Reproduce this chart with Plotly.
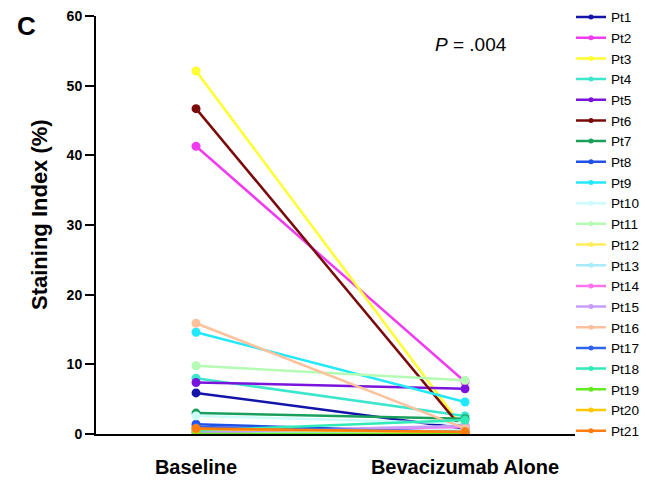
import plotly.graph_objects as go

categories = ["Baseline", "Bevacizumab Alone"]
patients = [f"Pt{i}" for i in range(1, 22)]
baseline = [5.9, 41.3, 52.1, 8.0, 7.4, 46.7, 3.0, 1.4, 14.6, 2.6, 9.8, 0.5, 0.2, 0.3, 0.2, 15.9, 1.0, 0.5, 0.0, 0.7, 0.8]
bevacizumab = [0.8, 7.5, 0.5, 2.6, 6.5, 0.3, 2.2, 0.2, 4.6, 1.5, 7.7, 0.3, 0.5, 1.0, 1.2, 0.8, 0.3, 2.0, 0.0, 0.3, 0.3]
colors = ["#1414a8", "#f03cf0", "#ffff30", "#3ce6cc", "#7a14dc", "#7a0a0a", "#1aa05c",
          "#2050e6", "#22e8fa", "#ccfcfc", "#b4fcb4", "#ffec5a", "#a8ecfc", "#ff74ec",
          "#c89cfc", "#ffc09c", "#3064ec", "#30eab8", "#64ea1e", "#ffc800", "#ff7c10"]

fig = go.Figure()
for name, b, v, c in zip(patients, baseline, bevacizumab, colors):
    fig.add_trace(go.Scatter(x=categories, y=[b, v], mode="lines+markers",
                             line=dict(color=c, width=2.5), marker=dict(color=c, size=9),
                             showlegend=False, name=name))
for name, c in zip(patients, colors):
    fig.add_trace(go.Scatter(x=[None], y=[None], mode="lines+markers",
                             line=dict(color=c, width=2.5), marker=dict(color=c, size=5),
                             name=name))

# page body has an 8px margin, so the figure is laid out in a frame offset by 8px
OFF = 8
W, H = 648 - OFF, 481 - OFF
L, R, T, B = 96 - OFF, 575 - OFF, 16 - OFF, 434 - OFF
pw, ph = R - L, B - T

def px_x(x):
    return (x - OFF - L) / pw

def px_y(y):
    return (B - (y - OFF)) / ph

base = "Liberation Sans, Arial, sans-serif"
fig.update_layout(
    width=W, height=H,
    margin=dict(l=L, r=W - R, t=T, b=H - B, autoexpand=False),
    plot_bgcolor="white", paper_bgcolor="white",
    font=dict(family=base, color="black"),
    xaxis=dict(type="category", range=[-0.372, 1.409], showline=True, linecolor="black",
               linewidth=2, showgrid=False, zeroline=False, ticks="", automargin=False,
               ticklabelstandoff=14,
               tickfont=dict(family=base, size=20, color="black", weight="bold")),
    yaxis=dict(range=[0, 60], tickvals=[0, 10, 20, 30, 40, 50, 60], showline=True,
               linecolor="black", linewidth=2, showgrid=False, zeroline=False,
               ticks="outside", ticklen=9, tickwidth=1.5, tickcolor="black", automargin=False,
               ticklabeloverflow="allow",
               tickfont=dict(family=base, size=14, color="black", weight="bold")),
    legend=dict(xref="paper", yref="paper", x=px_x(571), xanchor="left",
                y=px_y(1.7), yanchor="top", maxheight=1.0,
                font=dict(family=base, size=13.6, color="black"),
                tracegroupgap=0, bgcolor="rgba(0,0,0,0)"),
    annotations=[
        dict(text="<b>Staining Index (%)</b>", textangle=-90, x=px_x(39), xref="paper",
             y=px_y(215), yref="paper", showarrow=False, xanchor="center", yanchor="middle",
             font=dict(family=base, size=22, color="black")),
        dict(text="<b>C</b>", x=px_x(15), xref="paper", y=px_y(9), yref="paper", showarrow=False,
             xanchor="left", yanchor="top", font=dict(family=base, size=26, color="black")),
        dict(text="<i>P</i> = .004", x=px_x(471), xref="paper", y=px_y(44), yref="paper",
             showarrow=False, xanchor="center", yanchor="middle",
             font=dict(family=base, size=19, color="black")),
    ],
)
fig.write_html("out.html")
